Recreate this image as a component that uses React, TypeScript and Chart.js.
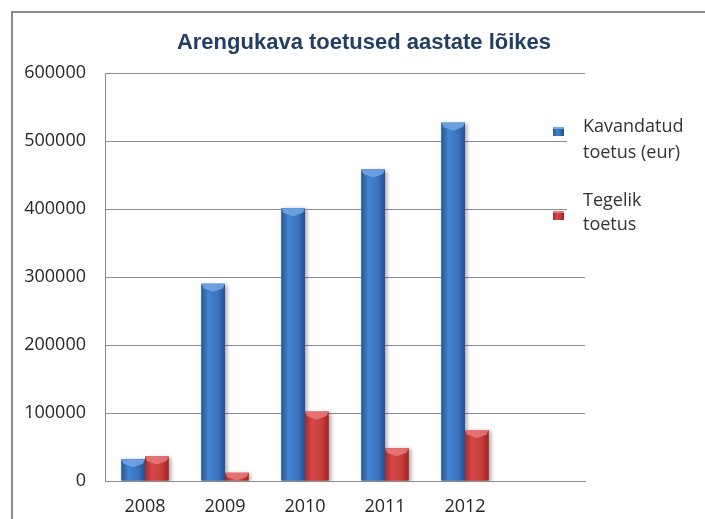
import React, { useEffect, useRef } from 'react';
import { Chart, registerables } from 'chart.js';

Chart.register(...registerables);

const chartTitle = 'Arengukava toetused aastate lõikes';
const categories = ['2008', '2009', '2010', '2011', '2012', ''];
const plannedValues = [32000, 290000, 401000, 458000, 527000, null];
const actualValues = [36000, 12000, 102000, 48000, 75000, null];
const plannedLegend = ['Kavandatud', 'toetus (eur)'];
const actualLegend = ['Tegelik', 'toetus'];
const yMin = 0;
const yMax = 600000;
const yStep = 100000;

const BLUE = { stops: ['#2b5696', '#4482d2', '#3a72be', '#28508e'], bevel: '#74a6e6', base: '#3b6fb6' };
const RED = { stops: ['#a02a28', '#d84848', '#c83e3d', '#9a2624'], bevel: '#e87a78', base: '#c94040' };
const palettes = [BLUE, RED];

export default function App() {
  const ref = useRef<HTMLCanvasElement>(null);

  useEffect(() => {
    document.body.style.margin = '0';
    const canvas = ref.current;
    if (!canvas) return;

    const deco = {
      id: 'deco',
      beforeDatasetsDraw(chart: any) {
        const ctx = chart.ctx;
        ctx.save();
        ctx.shadowColor = 'rgba(0,0,0,0.35)';
        ctx.shadowBlur = 4;
        ctx.shadowOffsetX = 2;
        ctx.shadowOffsetY = 1;
      },
      afterDatasetsDraw(chart: any) {
        const ctx = chart.ctx;
        ctx.restore();
        chart.data.datasets.forEach((ds: any, i: number) => {
          const meta = chart.getDatasetMeta(i);
          const pal = palettes[i];
          meta.data.forEach((el: any, idx: number) => {
            if (ds.data[idx] == null) return;
            const p = el.getProps(['x', 'y', 'base', 'width'], true);
            const l = p.x - p.width / 2;
            const r = p.x + p.width / 2;
            const h = p.base - p.y;
            const g = ctx.createLinearGradient(l, 0, r, 0);
            g.addColorStop(0, pal.stops[0]);
            g.addColorStop(0.3, pal.stops[1]);
            g.addColorStop(0.7, pal.stops[2]);
            g.addColorStop(1, pal.stops[3]);
            ctx.save();
            ctx.fillStyle = g;
            ctx.fillRect(l, p.y, p.width, h);
            const bh = Math.min(8, h);
            ctx.fillStyle = pal.bevel;
            ctx.beginPath();
            ctx.moveTo(l, p.y);
            ctx.lineTo(r, p.y);
            ctx.lineTo(r - 2, p.y + bh * 0.55);
            ctx.lineTo(p.x, p.y + bh);
            ctx.lineTo(l + 2, p.y + bh * 0.55);
            ctx.closePath();
            ctx.globalAlpha = 0.85;
            ctx.fill();
            ctx.restore();
          });
        });
      },
      afterDraw(chart: any) {
        const ctx = chart.ctx;
        ctx.save();
        // outer frame
        ctx.strokeStyle = '#8a8a8a';
        ctx.lineWidth = 2;
        ctx.strokeRect(12, 12, 800, 600);
        // title
        ctx.fillStyle = '#243f63';
        ctx.font = 'bold 22px "Liberation Sans", Arial, sans-serif';
        ctx.textAlign = 'center';
        ctx.textBaseline = 'middle';
        ctx.fillText(chartTitle, 364, 43);
        // legend box
        ctx.fillStyle = '#ffffff';
        ctx.fillRect(567, 92, 138, 165);
        const entries = [
          { lines: plannedLegend, pal: BLUE, my: 127, ty: [132, 158] },
          { lines: actualLegend, pal: RED, my: 211, ty: [206, 230] },
        ];
        entries.forEach((e) => {
          const g = ctx.createLinearGradient(553, 0, 564, 0);
          g.addColorStop(0, e.pal.stops[0]);
          g.addColorStop(0.4, e.pal.stops[1]);
          g.addColorStop(1, e.pal.stops[3]);
          ctx.fillStyle = g;
          ctx.fillRect(553, e.my, 11, 9);
          ctx.fillStyle = e.pal.bevel;
          ctx.fillRect(553, e.my, 11, 2);
          ctx.fillStyle = '#333333';
          ctx.font = '18px "Open Sans", sans-serif';
          ctx.textAlign = 'left';
          ctx.textBaseline = 'alphabetic';
          e.lines.forEach((t, k) => ctx.fillText(t, 583, e.ty[k]));
        });
        ctx.restore();
      },
    };

    const chart = new Chart(canvas, {
      type: 'bar',
      data: {
        labels: categories,
        datasets: [
          { label: plannedLegend.join(' '), data: plannedValues, backgroundColor: BLUE.base, categoryPercentage: 0.59, barPercentage: 1 },
          { label: actualLegend.join(' '), data: actualValues, backgroundColor: RED.base, categoryPercentage: 0.59, barPercentage: 1 },
        ],
      },
      options: {
        responsive: false,
        animation: false,
        layout: { padding: { top: 73, right: 120, bottom: 0, left: 0 } },
        plugins: {
          legend: { display: false },
          title: { display: false },
          tooltip: { enabled: false },
        },
        scales: {
          x: {
            grid: { display: false, drawTicks: false },
            border: { display: true, color: '#8c8c8c', width: 1 },
            ticks: { color: '#262626', font: { family: '"Open Sans", sans-serif', size: 18 }, padding: 15, maxRotation: 0 },
            afterFit: (s: any) => { s.height = 38; },
          },
          y: {
            min: yMin,
            max: yMax,
            grid: { color: '#8c8c8c', lineWidth: 1, drawTicks: false },
            border: { display: true, color: '#8c8c8c', width: 1 },
            ticks: {
              stepSize: yStep,
              color: '#262626',
              font: { family: '"Open Sans", sans-serif', size: 18 },
              padding: 19,
              callback: (v: any) => String(v),
            },
            afterFit: (s: any) => { s.width = 105; },
          },
        },
      },
      plugins: [deco],
    } as any);

    return () => chart.destroy();
  }, []);

  return (
    <div style={{ position: 'absolute', left: 0, top: 0, width: 705, height: 519 }}>
      <canvas ref={ref} width={705} height={519} style={{ display: 'block' }} />
    </div>
  );
}
